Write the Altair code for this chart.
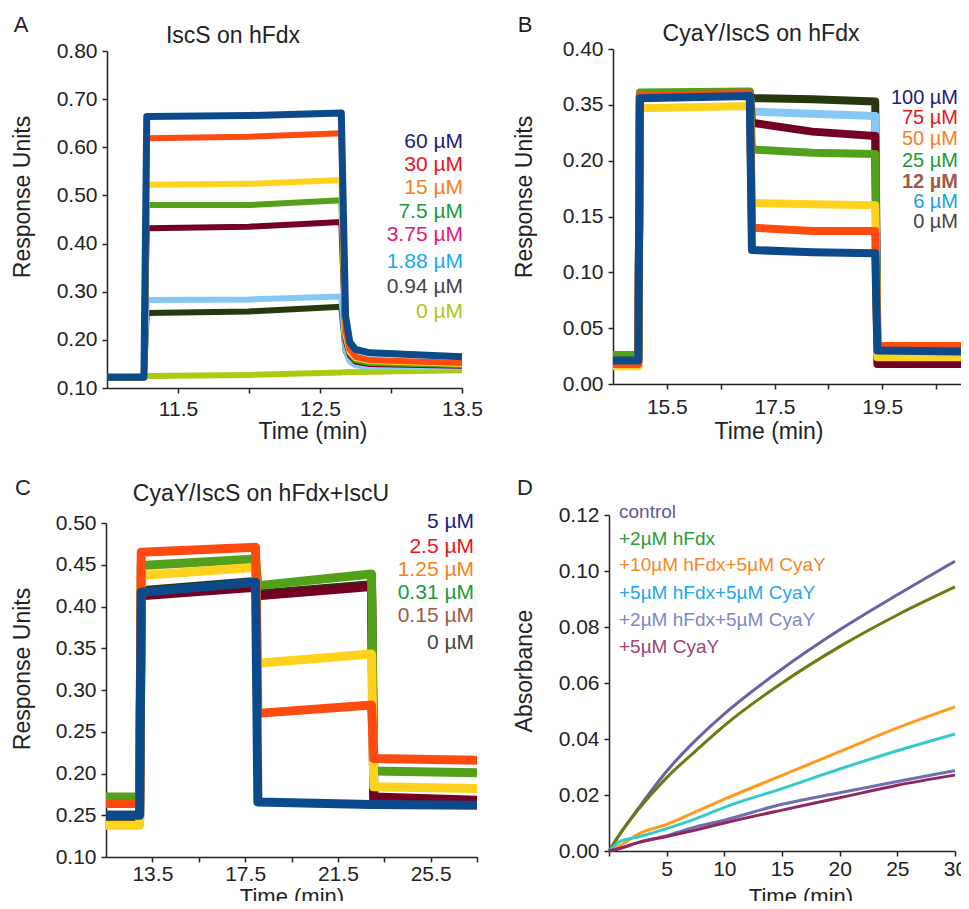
import altair as alt
import pandas as pd

FONT = "Liberation Sans"
INK = "#222222"
W, H = 953, 893

# ---------------- Panel A: IscS on hFdx ----------------
A_TIME = [11.00, 11.26, 11.28, 12.00, 12.65, 12.68, 12.71, 12.75, 12.85, 13.50]
A_60 = [0.123, 0.123, 0.664, 0.666, 0.671, 0.250, 0.195, 0.180, 0.173, 0.165]
A_30 = [0.123, 0.123, 0.619, 0.622, 0.629, 0.220, 0.180, 0.165, 0.158, 0.152]
A_15 = [0.123, 0.123, 0.522, 0.524, 0.532, 0.210, 0.175, 0.162, 0.156, 0.150]
A_7_5 = [0.122, 0.122, 0.480, 0.480, 0.490, 0.205, 0.172, 0.158, 0.152, 0.148]
A_3_75 = [0.122, 0.122, 0.432, 0.435, 0.445, 0.200, 0.168, 0.155, 0.150, 0.146]
A_1_88 = [0.123, 0.123, 0.283, 0.284, 0.290, 0.180, 0.155, 0.147, 0.144, 0.143]
A_0_94 = [0.122, 0.122, 0.256, 0.259, 0.269, 0.178, 0.157, 0.150, 0.147, 0.145]
A_0 = [0.122, 0.122, 0.125, 0.127, 0.132, 0.133, 0.133, 0.133, 0.134, 0.137]
A_LABELS = ["60 µM", "30 µM", "15 µM", "7.5 µM", "3.75 µM", "1.88 µM", "0.94 µM", "0 µM"]
A_LABEL_COLORS = ["#1c1c7a", "#e8141c", "#f5821e", "#1a9a3c", "#e4187c", "#1aa8ee", "#444444", "#a6ca14"]
A_LINE_COLORS = ["#0d4a8c", "#ff4a10", "#ffd21e", "#53a01a", "#730022", "#86c8f5", "#28380e", "#a8cc10"]
A_Y_TICKS = [0.10, 0.20, 0.30, 0.40, 0.50, 0.60, 0.70, 0.80]
A_Y_LABELS = ["0.10", "0.20", "0.30", "0.40", "0.50", "0.60", "0.70", "0.80"]
A_X_TICKS = [11.5, 12.0, 12.5, 13.0, 13.5]
A_X_LABELS = ["11.5", "", "12.5", "", "13.5"]

# ---------------- Panel B: CyaY/IscS on hFdx ----------------
B_TIME = [14.50, 14.97, 15.00, 17.04, 17.08, 18.20, 19.37, 19.41, 21.00]
B_100 = [0.021, 0.021, 0.256, 0.258, 0.120, 0.118, 0.117, 0.030, 0.029]
B_75 = [0.018, 0.018, 0.258, 0.260, 0.140, 0.137, 0.137, 0.034, 0.034]
B_50 = [0.016, 0.016, 0.247, 0.249, 0.162, 0.161, 0.160, 0.024, 0.024]
B_25 = [0.026, 0.026, 0.261, 0.262, 0.210, 0.207, 0.206, 0.027, 0.027]
B_12 = [0.020, 0.020, 0.259, 0.261, 0.234, 0.226, 0.222, 0.018, 0.018]
B_6 = [0.020, 0.020, 0.257, 0.259, 0.244, 0.242, 0.240, 0.029, 0.029]
B_0 = [0.021, 0.021, 0.258, 0.260, 0.256, 0.255, 0.253, 0.029, 0.029]
B_LABELS = ["100 µM", "75 µM", "50 µM", "25 µM", "12 µM", "6 µM", "0 µM"]
B_LABEL_COLORS = ["#1c1c7a", "#e8141c", "#f5821e", "#1a9a3c", "#a05a46", "#1aa0e6", "#444444"]
B_LINE_COLORS = ["#0d4a8c", "#ff4a10", "#ffd21e", "#53a01a", "#730022", "#86c8f5", "#28380e"]
B_Y_TICKS = [0.00, 0.05, 0.10, 0.15, 0.20, 0.25, 0.30]
B_Y_LABELS = ["0.00", "0.05", "0.10", "0.15", "0.20", "0.35", "0.40"]
B_X_TICKS = [15.5, 16.5, 17.5, 18.5, 19.5, 20.5]
B_X_LABELS = ["15.5", "", "17.5", "", "19.5", ""]

# ---------------- Panel C: CyaY/IscS on hFdx+IscU ----------------
C_TIME = [11.50, 12.95, 13.02, 17.95, 18.05, 22.95, 23.05, 27.50]
C_5 = [0.150, 0.150, 0.417, 0.429, 0.166, 0.163, 0.163, 0.162]
C_2_5 = [0.164, 0.164, 0.465, 0.471, 0.272, 0.282, 0.218, 0.216]
C_1_25 = [0.138, 0.138, 0.437, 0.447, 0.332, 0.343, 0.184, 0.182]
C_0_31 = [0.172, 0.172, 0.449, 0.457, 0.425, 0.439, 0.203, 0.201]
C_0_15 = [0.150, 0.150, 0.413, 0.423, 0.413, 0.424, 0.172, 0.168]
C_0 = [0.146, 0.146, 0.419, 0.430, 0.415, 0.426, 0.168, 0.166]
C_LABELS = ["5 µM", "2.5 µM", "1.25 µM", "0.31 µM", "0.15 µM", "0 µM"]
C_LABEL_COLORS = ["#1c1c7a", "#e8141c", "#f5821e", "#1a9a3c", "#a05a46", "#444444"]
C_LINE_COLORS = ["#0d4a8c", "#ff4a10", "#ffd21e", "#53a01a", "#730022", "#28380e"]
C_Y_TICKS = [0.10, 0.15, 0.20, 0.25, 0.30, 0.35, 0.40, 0.45, 0.50]
C_Y_LABELS = ["0.10", "0.25", "0.20", "0.25", "0.30", "0.35", "0.40", "0.45", "0.50"]
C_X_TICKS = [13.5, 15.5, 17.5, 19.5, 21.5, 23.5, 25.5, 27.5]
C_X_LABELS = ["13.5", "", "17.5", "", "21.5", "", "25.5", ""]

# ---------------- Panel D: absorbance ----------------
D_TIME = [0, 1, 2.5, 5, 7.5, 10, 15, 20, 25, 30]
D_CONTROL = [0, 0.0064, 0.0150, 0.0285, 0.0395, 0.0490, 0.0650, 0.0790, 0.0915, 0.1035]
D_HFDX2 = [0, 0.0064, 0.0146, 0.0262, 0.0357, 0.0448, 0.0600, 0.0730, 0.0843, 0.0943]
D_HFDX10_CYAY5 = [0, 0.0020, 0.0060, 0.0095, 0.0140, 0.0185, 0.0270, 0.0355, 0.0440, 0.0515]
D_HFDX5_CYAY5 = [0, 0.0035, 0.0050, 0.0080, 0.0115, 0.0156, 0.0223, 0.0293, 0.0358, 0.0418]
D_HFDX2_CYAY5 = [0, 0.0010, 0.0030, 0.0055, 0.0086, 0.0110, 0.0167, 0.0208, 0.0248, 0.0287]
D_CYAY5 = [0, 0.0010, 0.0030, 0.0052, 0.0075, 0.0100, 0.0146, 0.0190, 0.0235, 0.0271]
D_LABELS = ["control", "+2µM hFdx", "+10µM hFdx+5µM CyaY", "+5µM hFdx+5µM CyaY",
            "+2µM hFdx+5µM CyaY", "+5µM CyaY"]
D_LABEL_COLORS = ["#5a5aa0", "#2a9a3a", "#f5882a", "#22a8e8", "#7a88c8", "#a04478"]
D_LINE_COLORS = ["#6464a6", "#6e7a0e", "#ff9a1e", "#36c9cc", "#6e6eb0", "#90285e"]
D_Y_TICKS = [0.00, 0.02, 0.04, 0.06, 0.08, 0.10, 0.12]
D_Y_LABELS = ["0.00", "0.02", "0.04", "0.06", "0.08", "0.10", "0.12"]
D_X_TICKS = [0, 5, 10, 15, 20, 25, 30]
D_X_LABELS = ["", "5", "10", "15", "20", "25", "30"]


def lab_expr(values, labels):
    vals = ",".join(repr(v) for v in values)
    labs = ",".join("'" + s + "'" for s in labels)
    return f"[{labs}][indexof([{vals}], datum.value)]"


def panel(times, series, colors, widths, xdom, xrange, ydom, yrange,
          xticks, xlabels, yticks, ylabels, xpad, interp="linear"):
    layers = []
    for vals, col, sw in zip(series, colors, widths):
        df = pd.DataFrame({"t": times, "v": vals})
        layers.append(
            alt.Chart(df).mark_line(color=col, strokeWidth=sw, interpolate=interp,
                                    strokeJoin="round")
            .encode(
                x=alt.X("t:Q", scale=alt.Scale(domain=xdom, range=xrange, nice=False, zero=False),
                        axis=alt.Axis(orient="bottom", offset=yrange[0] - H, values=xticks,
                                      labelPadding=xpad,
                                      labelExpr=lab_expr(xticks, xlabels), title=None)),
                y=alt.Y("v:Q", scale=alt.Scale(domain=ydom, range=yrange, nice=False, zero=False),
                        axis=alt.Axis(orient="left", offset=-xrange[0], values=yticks,
                                      labelExpr=lab_expr(yticks, ylabels), title=None)),
            )
        )
    return alt.layer(*layers)


def txt(s, x, y, size, color=INK, align="center", angle=0, weight="normal"):
    return alt.Chart(pd.DataFrame({"s": [s]})).mark_text(
        align=align, baseline="middle", fontSize=size, font=FONT, color=color,
        angle=angle, fontWeight=weight
    ).encode(text="s:N", x=alt.value(x), y=alt.value(y))


# back-to-front drawing order
pA = panel(A_TIME, [A_0, A_0_94, A_1_88, A_3_75, A_7_5, A_15, A_30, A_60],
           A_LINE_COLORS[::-1], [6, 6, 6, 6, 6, 6, 6, 7],
           [11.0, 13.5], [99, 454], [0.10, 0.80], [380, 43],
           A_X_TICKS, A_X_LABELS, A_Y_TICKS, A_Y_LABELS, 5)
pB = panel(B_TIME, [B_0, B_6, B_12, B_25, B_50, B_75, B_100],
           B_LINE_COLORS[::-1], [8] * 7,
           [14.5, 21.0], [605, 955], [0.0, 0.30], [376, 41],
           B_X_TICKS, B_X_LABELS, B_Y_TICKS, B_Y_LABELS, 7)
pC = panel(C_TIME, [C_0, C_0_15, C_0_31, C_1_25, C_2_5, C_5],
           C_LINE_COLORS[::-1], [9] * 6,
           [11.5, 27.5], [98, 469], [0.10, 0.50], [849, 515],
           C_X_TICKS, C_X_LABELS, C_Y_TICKS, C_Y_LABELS, 1)
pD = panel(D_TIME, [D_CONTROL, D_HFDX2, D_HFDX10_CYAY5, D_HFDX5_CYAY5, D_HFDX2_CYAY5, D_CYAY5],
           D_LINE_COLORS, [3] * 6,
           [0, 30], [601, 947], [0.0, 0.12], [843, 507],
           D_X_TICKS, D_X_LABELS, D_Y_TICKS, D_Y_LABELS, 2, interp="monotone")

texts = []
# panel letters and titles
texts += [txt("A", 13, 17, 22), txt("B", 517, 17, 22), txt("C", 15, 480, 22), txt("D", 517, 480, 22)]
texts += [txt("IscS on hFdx", 225, 28, 23), txt("CyaY/IscS on hFdx", 753, 26, 23),
          txt("CyaY/IscS on hFdx+IscU", 253, 486, 23)]
# axis titles
texts += [txt("Response Units", 15, 189, 23, angle=270), txt("Response Units", 517, 189, 23, angle=270),
          txt("Response Units", 15, 661, 23, angle=270), txt("Absorbance", 517, 663, 23, angle=270)]
texts += [txt("Time (min)", 305, 424, 23), txt("Time (min)", 761, 424, 23),
          txt("Time (min)", 284, 889, 22), txt("Time (min)", 793, 889, 22)]
# legends
A_LEG_Y = [134, 157, 180, 204, 227, 254, 279, 304]
for lab, col, yy in zip(A_LABELS, A_LABEL_COLORS, A_LEG_Y):
    texts.append(txt(lab, 455, yy, 21, color=col, align="right"))
B_LEG_Y = [90, 110, 131, 153, 174, 194, 214]
for lab, col, yy in zip(B_LABELS, B_LABEL_COLORS, B_LEG_Y):
    texts.append(txt(lab, 950, yy, 20, color=col, align="right",
                     weight="bold" if lab.startswith("12") else "normal"))
C_LEG_Y = [514, 539, 562, 585, 608, 635]
for lab, col, yy in zip(C_LABELS, C_LABEL_COLORS, C_LEG_Y):
    texts.append(txt(lab, 466, yy, 21, color=col, align="right"))
D_LEG_Y = [504, 531, 557, 585, 612, 639]
for lab, col, yy in zip(D_LABELS, D_LABEL_COLORS, D_LEG_Y):
    texts.append(txt(lab, 611, yy, 19, color=col, align="left"))

chart = (
    alt.layer(pA, pB, pC, pD, *texts)
    .resolve_scale(x="independent", y="independent")
    .properties(width=W, height=H, autosize=alt.AutoSizeParams(type="none"), padding=0)
    .configure_view(stroke=None)
    .configure_axis(
        labelFont=FONT, labelFontSize=21, labelColor=INK,
        domainColor=INK, tickColor=INK, domainWidth=1.5, tickWidth=1.5,
        tickSize=5, labelPadding=5, grid=False, labelFlush=False, labelOverlap=False,
    )
)

chart.save("out.html", embed_options={"renderer": "svg", "actions": False})
